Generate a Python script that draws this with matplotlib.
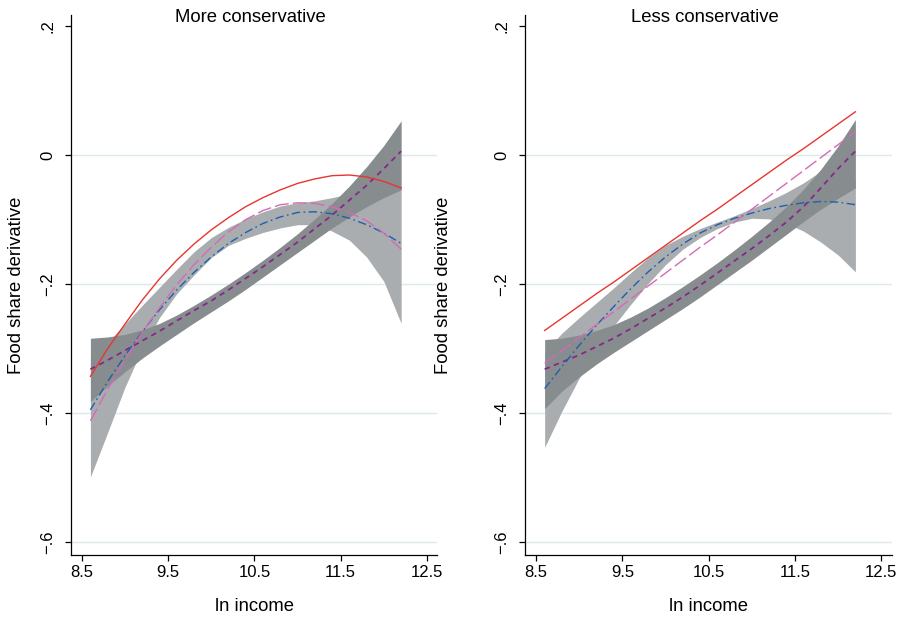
import matplotlib
matplotlib.use("Agg")
import matplotlib.pyplot as plt

plt.rcParams['font.family'] = ['Liberation Sans', 'DejaVu Sans']

# data
x_line = [8.6, 8.8, 9.0, 9.2, 9.4, 9.6, 9.8, 10.0, 10.2, 10.4,
          10.6, 10.8, 11.0, 11.2, 11.4, 11.6, 11.8, 12.0, 12.2]

# left panel: more conservative
l_red = [-0.343, -0.300, -0.262, -0.225, -0.192, -0.163, -0.138, -0.116, -0.097, -0.080,
         -0.066, -0.054, -0.044, -0.037, -0.032, -0.031, -0.034, -0.041, -0.051]
l_pink = [-0.412, -0.363, -0.318, -0.275, -0.237, -0.201, -0.170, -0.143, -0.119, -0.100,
          -0.086, -0.077, -0.074, -0.075, -0.080, -0.089, -0.102, -0.121, -0.146]
l_blue = [-0.395, -0.351, -0.311, -0.274, -0.240, -0.209, -0.182, -0.158, -0.137, -0.120,
          -0.106, -0.096, -0.089, -0.088, -0.091, -0.098, -0.108, -0.121, -0.137]
l_purple = [-0.332, -0.318, -0.303, -0.288, -0.273, -0.257, -0.241, -0.226, -0.209, -0.191,
            -0.173, -0.154, -0.135, -0.114, -0.093, -0.070, -0.047, -0.021, 0.006]
l_dark_hi = [-0.284, -0.282, -0.278, -0.271, -0.261, -0.248, -0.233, -0.217, -0.200, -0.182,
             -0.163, -0.143, -0.122, -0.099, -0.075, -0.048, -0.018, 0.015, 0.053]
l_dark_lo = [-0.382, -0.358, -0.336, -0.315, -0.296, -0.278, -0.260, -0.243, -0.226, -0.208,
             -0.189, -0.170, -0.151, -0.132, -0.113, -0.096, -0.080, -0.066, -0.054]
l_light_hi = [-0.310, -0.290, -0.262, -0.233, -0.205, -0.177, -0.150, -0.128, -0.112, -0.099,
              -0.088, -0.079, -0.074, -0.071, -0.066, -0.060, -0.056, -0.052, -0.050]
l_light_lo = [-0.499, -0.430, -0.360, -0.300, -0.252, -0.215, -0.186, -0.159, -0.140, -0.129,
              -0.120, -0.113, -0.108, -0.108, -0.118, -0.132, -0.158, -0.196, -0.261]

# right panel: less conservative
r_red = [-0.272, -0.253, -0.234, -0.215, -0.197, -0.178, -0.159, -0.140, -0.121, -0.102,
         -0.084, -0.065, -0.046, -0.027, -0.008, 0.010, 0.029, 0.048, 0.067]
r_pink = [-0.323, -0.303, -0.283, -0.263, -0.243, -0.223, -0.203, -0.183, -0.163, -0.143,
          -0.124, -0.104, -0.084, -0.064, -0.044, -0.024, -0.004, 0.016, 0.036]
r_blue = [-0.362, -0.328, -0.295, -0.264, -0.235, -0.207, -0.181, -0.158, -0.138, -0.121,
          -0.108, -0.098, -0.090, -0.083, -0.078, -0.074, -0.072, -0.073, -0.077]
r_purple = [-0.332, -0.321, -0.310, -0.297, -0.284, -0.269, -0.253, -0.237, -0.220, -0.202,
            -0.183, -0.164, -0.145, -0.125, -0.104, -0.080, -0.051, -0.021, 0.006]
r_dark_hi = [-0.286, -0.284, -0.279, -0.272, -0.263, -0.251, -0.237, -0.221, -0.204, -0.186,
             -0.167, -0.147, -0.126, -0.104, -0.080, -0.053, -0.022, 0.014, 0.055]
r_dark_lo = [-0.393, -0.366, -0.344, -0.324, -0.306, -0.289, -0.272, -0.255, -0.238, -0.220,
             -0.201, -0.182, -0.163, -0.143, -0.123, -0.103, -0.084, -0.067, -0.051]
r_light_hi = [-0.305, -0.276, -0.252, -0.229, -0.206, -0.182, -0.159, -0.140, -0.126, -0.114,
              -0.104, -0.094, -0.083, -0.071, -0.058, -0.043, -0.025, -0.030, -0.040]
r_light_lo = [-0.453, -0.397, -0.346, -0.302, -0.265, -0.231, -0.199, -0.170, -0.146, -0.128,
              -0.114, -0.104, -0.098, -0.099, -0.106, -0.118, -0.135, -0.155, -0.181]

x_ticks = [8.5, 9.5, 10.5, 11.5, 12.5]
x_ticklabels = ["8.5", "9.5", "10.5", "11.5", "12.5"]
y_ticks = [-0.6, -0.4, -0.2, 0, 0.2]
y_ticklabels = ["\u2212.6", "\u2212.4", "\u2212.2", "0", ".2"]
titles = ["More conservative", "Less conservative"]

light_col = "#a9adb0"
dark_col = "#878c8e"

fig = plt.figure(figsize=(9, 6.18), dpi=100)
ax1 = fig.add_axes([0.0786, 0.1019, 0.4074, 0.8738])
ax2 = fig.add_axes([0.5833, 0.1019, 0.4074, 0.8738])

panels = [
    (ax1, l_red, l_pink, l_blue, l_purple, l_dark_hi, l_dark_lo, l_light_hi, l_light_lo, -0.125),
    (ax2, r_red, r_pink, r_blue, r_purple, r_dark_hi, r_dark_lo, r_light_hi, r_light_lo, -0.199),
]

for k, (ax, red, pink, blue, purple, dhi, dlo, lhi, llo, ylab_x) in enumerate(panels):
    # confidence bands (light one under the dark one)
    ax.fill_between(x_line, llo, lhi, color=light_col, lw=0, zorder=2)
    ax.fill_between(x_line, dlo, dhi, color=dark_col, lw=0, zorder=3)

    ax.plot(x_line, purple, color="#86288a", lw=1.3, ls=(0, (3, 2.5)), zorder=5)
    ax.plot(x_line, blue, color="#1f5fae", lw=1.0, ls=(0, (6, 2.5, 1.2, 2.5)), zorder=5)
    ax.plot(x_line, pink, color="#d46bb4", lw=1.0, ls=(0, (10, 3)), zorder=5)
    ax.plot(x_line, red, color="#e8352f", lw=1.0, zorder=6)

    ax.set_xlim(8.372, 12.62)
    ax.set_ylim(-0.62, 0.217)
    ax.set_xticks(x_ticks)
    ax.set_xticklabels(x_ticklabels, fontsize=12)
    ax.set_yticks(y_ticks)
    ax.set_yticklabels(y_ticklabels, fontsize=12, rotation=90, va="center")

    ax.grid(axis="y", color="#dde9ea", lw=1.0, zorder=0)
    ax.yaxis.get_gridlines()[-1].set_visible(False)
    ax.set_axisbelow(True)

    for s in ["top", "right"]:
        ax.spines[s].set_visible(False)
    for s in ["left", "bottom"]:
        ax.spines[s].set_linewidth(0.9)
    ax.tick_params(axis="both", direction="out", length=4.2, width=0.9, color="black")
    ax.tick_params(axis="y", pad=7)
    ax.tick_params(axis="x", pad=3)

    ax.set_xlabel("ln income", fontsize=13.3, labelpad=13)
    ax.set_ylabel("Food share derivative", fontsize=13.3)
    ax.yaxis.set_label_coords(ylab_x, 0.5)
    ax.text(0.49, 0.996, titles[k], transform=ax.transAxes, ha="center", va="center",
            fontsize=13.3)

fig.savefig("out.png", dpi=100)
